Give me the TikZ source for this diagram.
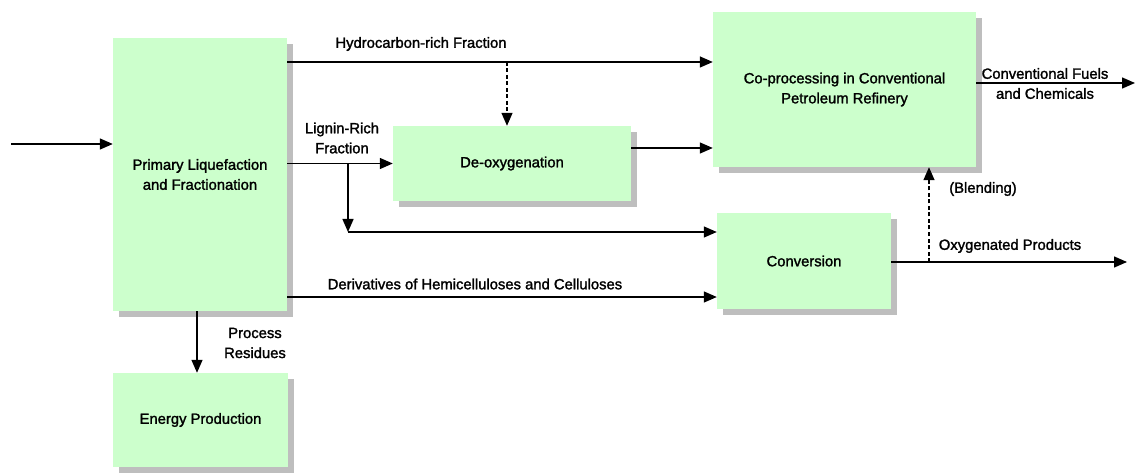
\documentclass[tikz,border=0pt]{standalone}
\usepackage{fontspec}
\setmainfont{Liberation Sans}[AutoFakeBold=1.6]
\usetikzlibrary{positioning}
\usetikzlibrary{arrows.meta}
\usetikzlibrary{shadows}
\definecolor{boxgreen}{HTML}{CCFFCC}
\definecolor{shadowgray}{HTML}{BEBEBE}
\tikzset {
  % process unit, light green with grey shadow
  unit/.style = {fill=boxgreen, align=center, inner sep=2pt,
    drop shadow={shadow xshift=6pt, shadow yshift=-6pt, fill=shadowgray, opacity=1}},
  % product streams
  flow/.style = {-{Triangle[length=13pt, width=11pt]}, line width=1.4pt},
  % optional routes
  option/.style = {flow, dash pattern=on 4pt off 2.5pt},
  % stream names
  lbl/.style = {align=center, inner sep=0pt},
}

\begin{document}
\begin{tikzpicture}[x=1pt, y=-1pt, font=\fontsize{14.8}{20}\selectfont\bfseries]
        \useasboundingbox (0,0) rectangle (1135,473);

        \node[unit, minimum width=174pt, minimum height=273pt] (prim) at (200,174.5) {Primary Liquefaction\\and Fractionation};
        \node[unit, minimum width=175pt, minimum height=94pt] (energy) at (200.5,420) {Energy Production};
        \node[unit, minimum width=238pt, minimum height=75pt] (deoxy) at (512,163.5) {De-oxygenation};
        \node[unit, minimum width=263pt, minimum height=155pt] (coproc) at (844.5,89.5) {Co-processing in Conventional\\Petroleum Refinery};
        \node[unit, minimum width=174pt, minimum height=96pt] (conv) at (804,261) {Conversion};

        \coordinate (feed) at (11,144);
        \coordinate (hc) at (507,62);
        \coordinate (lr) at (348,163.5);
        \coordinate (lrturn) at (348,232);
        \coordinate (dout) at (631,148);
        \coordinate (der) at (300,297);
        \coordinate (res) at (197,0);
        \coordinate (fuelsend) at (1135,83);
        \coordinate (oxy) at (929,262);
        \coordinate (oxyend) at (1127,262);

        \draw [flow] (feed) -- (feed -| prim.west);
        \draw [flow] (prim.east |- hc) -- (coproc.west |- hc);
        \draw [option] (hc) -- (hc |- deoxy.north);
        \draw [flow] (prim.east |- deoxy.west) -- (deoxy.west);
        \draw [flow] (lr) -- (lrturn);
        \draw [flow] (lrturn) -- (conv.west |- lrturn);
        \draw [flow] (deoxy.east |- dout) -- (coproc.west |- dout);
        \draw [flow] (prim.east |- der) -- (conv.west |- der);
        \draw [flow] (prim.south -| res) -- (energy.north -| res);
        \draw [flow] (coproc.east |- fuelsend) -- (fuelsend);
        \draw [flow] (conv.east |- oxyend) -- (oxyend);
        \draw [option] (oxy) -- (oxy |- coproc.south);

        \node[lbl] (hclbl) at (421,44) {Hydrocarbon-rich Fraction};
        \node[lbl] (lrlbl) at (342,138) {Lignin-Rich\\Fraction};
        \node[lbl] (derlbl) at (475,284) {Derivatives of Hemicelluloses and Celluloses};
        \node[lbl] (reslbl) at (255,343) {Process\\Residues};
        \node[lbl] (fuellbl) at (1045,83.5) {Conventional Fuels\\and Chemicals};
        \node[lbl] (oxylbl) at (1010,246) {Oxygenated Products};
        \node[lbl] (blendlbl) at (983,189) {(Blending)};
      \end{tikzpicture}
\end{document}
